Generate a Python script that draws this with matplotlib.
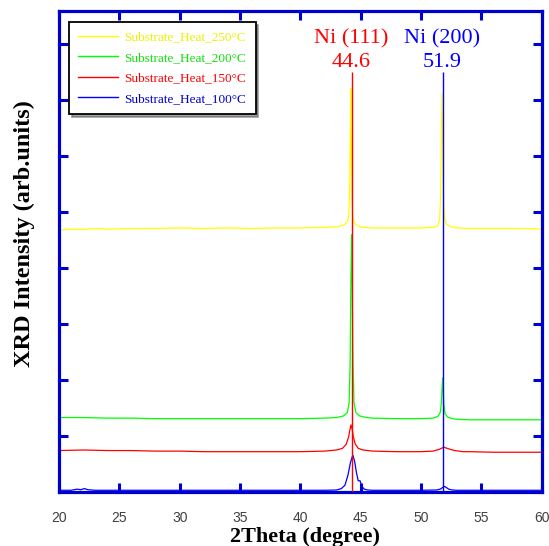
import matplotlib
matplotlib.use("Agg")
import matplotlib.pyplot as plt
from matplotlib.lines import Line2D

# values (2theta in degree, intensity in arb. units)
x_250 = [20, 21, 22, 23, 24, 26, 28, 30, 32, 34, 36, 38, 40, 42, 43, 43.6, 43.9, 44.0, 44.08, 44.13,
         44.18, 44.23, 44.28, 44.36, 44.5, 44.8, 45.3, 46, 48, 50, 51.0, 51.4, 51.55, 51.63, 51.69,
         51.75, 51.8, 51.86, 51.95, 52.1, 52.5, 53, 54, 56, 58, 60]
y_250 = [4.68, 4.70, 4.69, 4.71, 4.70, 4.71, 4.71, 4.72, 4.71, 4.72, 4.71, 4.72, 4.72, 4.73, 4.74,
         4.77, 4.83, 4.92, 5.25, 6.1, 7.21, 6.2, 5.2, 4.9, 4.8, 4.75, 4.73, 4.72, 4.72, 4.72, 4.73,
         4.76, 4.86, 5.3, 6.3, 7.13, 6.3, 5.3, 4.9, 4.79, 4.74, 4.72, 4.71, 4.71, 4.71, 4.70]

x_200 = [20, 22, 24, 26, 28, 30, 32, 34, 36, 38, 40, 42, 43, 43.6, 43.9, 44.05, 44.13, 44.19, 44.25,
         44.31, 44.37, 44.45, 44.6, 44.9, 45.5, 46, 48, 50, 51, 51.4, 51.6, 51.7, 51.75, 51.8, 51.85,
         51.9, 52.0, 52.2, 52.6, 53, 54, 56, 58, 60]
y_200 = [1.33, 1.33, 1.32, 1.32, 1.31, 1.31, 1.31, 1.31, 1.31, 1.31, 1.31, 1.32, 1.33, 1.36, 1.42,
         1.6, 2.3, 3.7, 4.6, 3.6, 2.3, 1.6, 1.42, 1.36, 1.33, 1.32, 1.31, 1.31, 1.32, 1.35, 1.42, 1.6,
         1.85, 2.04, 1.8, 1.55, 1.40, 1.34, 1.31, 1.30, 1.29, 1.29, 1.29, 1.29]

x_150 = [20, 22, 24, 26, 28, 30, 32, 34, 36, 38, 40, 42, 43, 43.5, 43.8, 44.0, 44.1, 44.2, 44.3,
         44.4, 44.55, 44.8, 45.2, 46, 48, 50, 51.0, 51.5, 51.9, 52.3, 52.8, 53.5, 54, 56, 58, 60]
y_150 = [0.74, 0.75, 0.74, 0.74, 0.73, 0.73, 0.72, 0.72, 0.72, 0.72, 0.72, 0.73, 0.75, 0.78, 0.85,
         0.98, 1.1, 1.2, 1.12, 0.98, 0.86, 0.78, 0.75, 0.73, 0.72, 0.72, 0.73, 0.76, 0.8, 0.77, 0.74,
         0.72, 0.72, 0.71, 0.71, 0.71]

x_100 = [20, 21, 21.5, 21.8, 22.1, 22.4, 23, 25, 30, 35, 40, 42, 43, 43.4, 43.7, 43.95, 44.15, 44.35,
         44.5, 44.65, 44.8, 44.95, 45.1, 45.3, 45.6, 46, 48, 50, 51.3, 51.6, 51.8, 51.95, 52.1, 52.3,
         52.6, 53, 55, 58, 60]
y_100 = [0.03, 0.03, 0.05, 0.04, 0.06, 0.04, 0.03, 0.03, 0.03, 0.03, 0.03, 0.03, 0.035, 0.06, 0.12,
         0.3, 0.52, 0.66, 0.55, 0.35, 0.2, 0.2, 0.1, 0.05, 0.035, 0.03, 0.03, 0.03, 0.035, 0.05, 0.08,
         0.1, 0.08, 0.05, 0.035, 0.03, 0.03, 0.03, 0.03]

labels = ["Substrate_Heat_250°C", "Substrate_Heat_200°C", "Substrate_Heat_150°C", "Substrate_Heat_100°C"]
colors = ["#ffff00", "#00ff00", "#ff0000", "#0000ff"]
text_colors = ["#f0f000", "#10e010", "#ff0000", "#0000cc"]

peak_names = ["Ni (111)", "Ni (200)"]
peak_labels = ["44.6", "51.9"]
peak_lines = [44.25, 51.8]
peak_colors = ["#ff0000", "#0000ff"]
line_top = 7.5

xticks = [20, 25, 30, 35, 40, 45, 50, 55, 60]
yticks = [1, 2, 3, 4, 5, 6, 7, 8]

serif = ["Liberation Serif", "DejaVu Serif"]
narrow = ["Liberation Sans Narrow", "Liberation Sans", "DejaVu Sans"]
frame_blue = "#0000cc"

fig = plt.figure(figsize=(5.49, 5.46), dpi=100)
ax = fig.add_axes([0.1075, 0.099, 0.879, 0.881])

series = [(x_100, y_100), (x_150, y_150), (x_200, y_200), (x_250, y_250)]
for (xs, ys), c in zip(series, colors[::-1]):
    ax.plot(xs, ys, color=c, lw=0.9)

for xv, c in zip(peak_lines, peak_colors):
    ax.vlines(xv, 0, line_top, color=c, lw=1.0, zorder=5)

for xv, name, lab, c in zip(peak_lines, peak_names, peak_labels, peak_colors):
    ax.text(xv - 0.05, 8.1, name, color=c, fontsize=16, family=serif, ha="center", va="center")
    ax.text(xv, 7.67, lab, color=c, fontsize=16, family=serif, ha="center", va="center")

ax.set_xlim(20, 60)
ax.set_ylim(0, 8.6)
ax.set_xticks(xticks)
ax.set_yticks(yticks)
ax.set_yticklabels([])
ax.tick_params(direction="in", length=6.5, width=2.2, color=frame_blue,
               top=True, right=True)
ax.tick_params(axis="x", pad=14, labelsize=10, labelcolor="#404040")
for lbl in ax.get_xticklabels():
    lbl.set_family(narrow)
for sp in ax.spines.values():
    sp.set_color(frame_blue)
    sp.set_linewidth(2.3)

ax.set_xlabel("2Theta (degree)", fontsize=16, fontweight="bold", family=serif)
ax.xaxis.set_label_coords(0.509, -0.072)
ax.set_ylabel("XRD Intensity (arb.units)", fontsize=17.5, fontweight="bold", family=serif)
ax.yaxis.set_label_coords(-0.05, 0.538)

handles = [Line2D([0], [0], color=c, lw=1.0) for c in colors]
leg = ax.legend(handles, labels, loc="upper left", bbox_to_anchor=(0.021, 0.977), borderaxespad=0,
                prop={"family": serif, "size": 9.5}, fancybox=False, shadow=True, framealpha=1,
                edgecolor="black", handlelength=3.0, handletextpad=0.5, labelspacing=0.62,
                borderpad=0.7)
leg.get_frame().set_linewidth(1.3)
for t, c in zip(leg.get_texts(), text_colors):
    t.set_color(c)

fig.savefig("out.png", dpi=100, facecolor="white")
